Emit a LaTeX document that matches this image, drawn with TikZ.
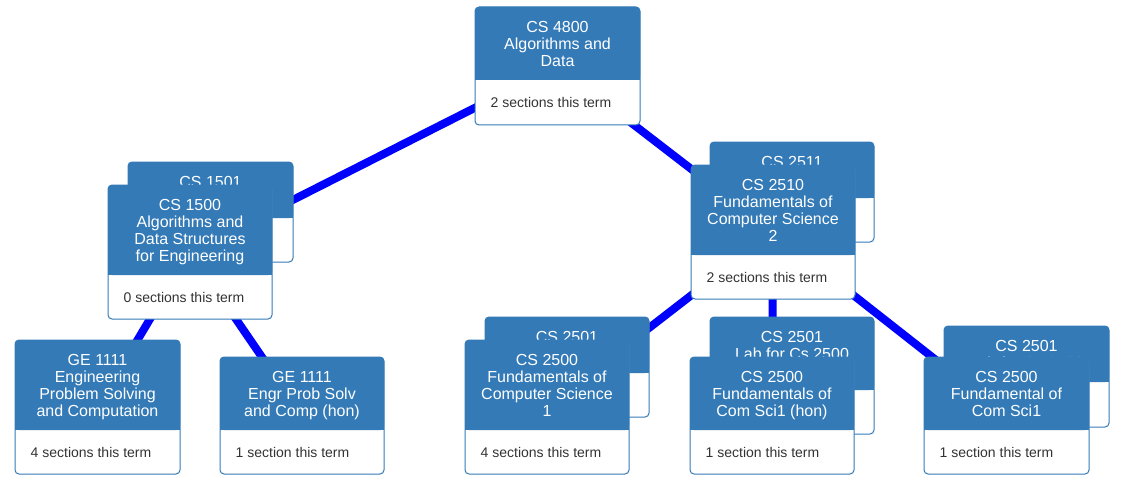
\documentclass[tikz,border=0pt]{standalone}
\usepackage{fontspec}
\setmainfont{Liberation Sans}
\usetikzlibrary{backgrounds}
\definecolor{hdr}{HTML}{337AB7}
\definecolor{bodyc}{HTML}{333333}
\definecolor{edgec}{HTML}{0000FF}
\tikzset{
  cardbox/.style={draw=hdr, line width=1pt, fill=white, rounded corners=4pt, inner sep=0pt, outer sep=0pt},
  hdrtext/.style={text=white, font=\fontsize{16}{17}\selectfont, align=center, inner sep=0pt},
  bodytext/.style={text=bodyc, font=\fontsize{14}{17}\selectfont, inner sep=0pt},
  edgeline/.style={draw=edgec, line width=8pt}
}
% #1 name, #2 left, #3 top, #4 right, #5 header bottom, #6 bottom, #7 header text, #8 body text
\newcommand\crd[8]{%
  \node[cardbox, minimum width={(#4)-(#2)}, minimum height={(#6)-(#3)}] (#1) at ({((#2)+(#4))/2},{((#3)+(#6))/2}) {};
  \fill[hdr, rounded corners=4pt] (#2,#3) rectangle (#4,#5);
  \fill[hdr] (#2,{(#5)-6}) rectangle (#4,#5);
  \node[hdrtext, anchor=north] (#1h) at ({((#2)+(#4))/2},{(#3)+11}) {\rule{0pt}{14pt}#7};
  \node[bodytext, anchor=base west] (#1b) at ({(#2)+15.5},{(#5)+27}) {#8};
}
\begin{document}
\begin{tikzpicture}[x=1pt, y=-1pt]
\useasboundingbox (0,0) rectangle (1134,484);

\crd{c4800}{475}{7}{640}{80}{125}{CS 4800\\Algorithms and\\Data}{2 sections this term}

\crd{c1501}{128}{162}{293}{218}{262}{CS 1501}{}
\crd{c1500}{108}{185}{272}{275}{319}{CS 1500\\Algorithms and\\Data Structures\\for Engineering}{0 sections this term}

\crd{c2511}{710}{142}{874}{198}{242}{CS 2511}{}
\crd{c2510}{691}{165}{855}{255}{299}{CS 2510\\Fundamentals of\\Computer Science\\2}{2 sections this term}

\crd{ge1}{15}{340}{180}{430}{474}{GE 1111\\Engineering\\Problem Solving\\and Computation}{4 sections this term}
\crd{ge2}{220}{357}{384}{430}{474}{GE 1111\\Engr Prob Solv\\and Comp (hon)}{1 section this term}

\crd{c2501a}{485}{317}{649}{373}{417}{CS 2501}{}
\crd{c2500a}{465}{340}{629}{430}{474}{CS 2500\\Fundamentals of\\Computer Science\\1}{4 sections this term}

\crd{c2501b}{710}{317}{874}{390}{434}{CS 2501\\Lab for Cs 2500}{}
\crd{c2500b}{690}{357}{854}{430}{474}{CS 2500\\Fundamentals of\\Com Sci1 (hon)}{1 section this term}

\crd{c2501c}{944}{326}{1109}{382}{427}{CS 2501\\Lab for Cs 2500}{}
\crd{c2500c}{924}{357}{1089}{430}{474}{CS 2500\\Fundamental of\\Com Sci1}{1 section this term}

\begin{scope}[on background layer]
  \fill[white] (0,0) rectangle (1134,484);
  \draw[edgeline] (c4800.center) -- (c1500.center);
  \draw[edgeline] (c4800.center) -- (c2510.center);
  \draw[edgeline] (c1500.center) -- (ge1.center);
  \draw[edgeline] (c1500.center) -- (ge2.center);
  \draw[edgeline] (c2510.center) -- (c2500a.center);
  \draw[edgeline] (c2510.center) -- (c2500b.center);
  \draw[edgeline] (c2510.center) -- (c2500c.center);
\end{scope}
\end{tikzpicture}
\end{document}
